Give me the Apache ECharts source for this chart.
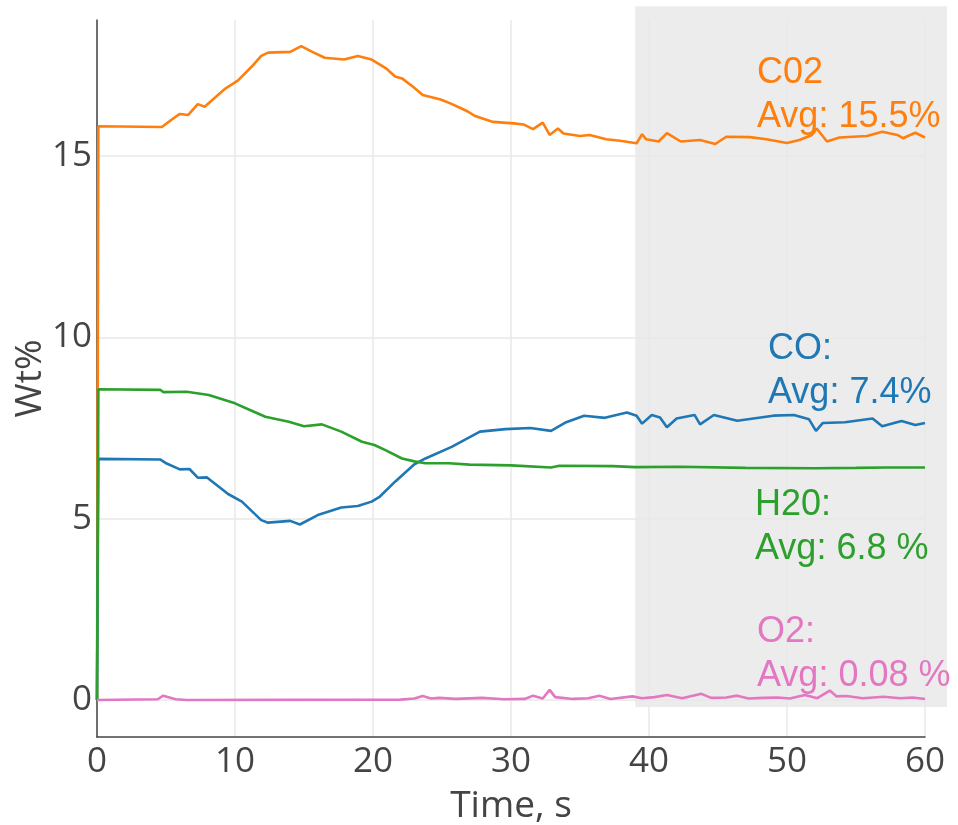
<!DOCTYPE html>
<html>
<head>
<meta charset="utf-8">
<script src="https://cdn.jsdelivr.net/npm/echarts@6.0.0/dist/echarts.min.js"></script>
<style>
  html, body { margin: 0; padding: 0; background: #fff; }
  #chart { width: 958px; height: 825px; }
</style>
</head>
<body>
<div id="chart"></div>
<script>
// 数据 (时间 s, Wt%)
var co2 = [[0,0],[0.1,15.82],[4.7,15.8],[5.4,16.0],[6.0,16.16],[6.6,16.13],[7.3,16.43],[7.8,16.36],[9.3,16.86],[10.2,17.08],[11.2,17.46],[11.9,17.76],[12.4,17.85],[14.0,17.87],[14.8,18.03],[15.6,17.87],[16.5,17.71],[17.9,17.66],[18.9,17.76],[19.9,17.66],[20.5,17.52],[21.0,17.4],[21.6,17.19],[22.1,17.14],[22.9,16.91],[23.6,16.68],[24.9,16.56],[25.6,16.45],[26.3,16.33],[26.9,16.22],[27.4,16.1],[28.7,15.94],[30.2,15.9],[30.9,15.87],[31.6,15.74],[32.3,15.92],[32.8,15.58],[33.4,15.76],[33.8,15.62],[35.0,15.55],[35.7,15.58],[36.9,15.46],[37.9,15.42],[39.1,15.35],[39.5,15.6],[39.8,15.46],[40.7,15.4],[41.3,15.63],[42.3,15.4],[43.7,15.44],[44.8,15.33],[45.6,15.53],[47.3,15.52],[48.5,15.46],[50.0,15.36],[50.9,15.44],[51.8,15.58],[52.15,15.76],[52.9,15.4],[53.8,15.51],[55.8,15.55],[56.9,15.67],[58.0,15.58],[58.4,15.49],[59.3,15.64],[60,15.51]]
var co = [[0,0],[0.1,6.65],[4.6,6.63],[5.05,6.52],[6.0,6.36],[6.7,6.37],[7.3,6.13],[7.95,6.14],[9.5,5.68],[10.5,5.47],[11.9,4.96],[12.4,4.89],[14.0,4.94],[14.7,4.84],[16.0,5.1],[17.7,5.31],[18.9,5.35],[19.9,5.47],[20.5,5.61],[21.6,6.02],[23.0,6.5],[23.8,6.66],[25.7,6.98],[27.75,7.4],[29.6,7.47],[31.4,7.5],[32.9,7.42],[34.0,7.66],[35.3,7.84],[36.8,7.78],[38.4,7.93],[39.1,7.84],[39.5,7.62],[40.2,7.86],[40.8,7.79],[41.3,7.52],[42.0,7.76],[43.3,7.86],[43.7,7.6],[44.7,7.86],[46.4,7.7],[49.0,7.84],[50.5,7.86],[51.6,7.74],[52.1,7.42],[52.6,7.64],[54.2,7.66],[56.2,7.76],[56.9,7.55],[58.3,7.69],[59.3,7.58],[60,7.64]]
var h2o = [[0,0],[0.1,8.57],[4.6,8.55],[4.8,8.49],[6.5,8.5],[8.1,8.41],[10.0,8.18],[11.0,8.01],[12.2,7.81],[13.9,7.67],[15.0,7.55],[16.3,7.6],[17.7,7.4],[19.2,7.12],[20.1,7.03],[20.9,6.89],[22.1,6.66],[23.0,6.58],[23.8,6.53],[25.5,6.53],[27.0,6.49],[30.0,6.47],[32.9,6.41],[33.5,6.46],[37.4,6.45],[39.0,6.42],[42.2,6.43],[47.0,6.4],[52.0,6.39],[55.0,6.4],[57.2,6.41],[60,6.41]]
var o2 = [[0,0],[4.4,0.02],[4.8,0.12],[5.7,0.02],[6.5,0],[22.0,0.01],[23.0,0.04],[23.6,0.11],[24.2,0.04],[24.8,0.06],[26.0,0.03],[27.9,0.06],[29.5,0.02],[31.0,0.03],[31.6,0.12],[32.3,0.04],[32.8,0.28],[33.2,0.08],[34.5,0.03],[35.6,0.05],[36.4,0.12],[37.2,0.03],[38.8,0.1],[39.5,0.05],[40.4,0.08],[41.3,0.14],[42.4,0.05],[43.8,0.17],[44.5,0.06],[45.6,0.07],[46.4,0.12],[47.2,0.04],[48.3,0.06],[49.3,0.07],[50.2,0.04],[51.3,0.14],[52.2,0.05],[53.1,0.26],[53.6,0.1],[54.3,0.11],[55.5,0.05],[57.0,0.09],[58.2,0.05],[59.1,0.07],[60,0.03]]

var yTicks = [0, 5, 10, 15]
var shadeX = [39, 61.6] // 平均值区间
var shadeY = [-0.19, 19.13]
var notes = [
    {text: 'C02\nAvg: 15.5%', color: '#ff7f0e', x: 757, y: 51},
    {text: 'CO:\nAvg: 7.4%', color: '#1f77b4', x: 768, y: 327},
    {text: 'H20:\nAvg: 6.8 %', color: '#2ca02c', x: 755, y: 483},
    {text: 'O2:\nAvg: 0.08 %', color: '#e377c2', x: 757, y: 610}
]

var font = '"Open Sans", "Liberation Sans", Arial, sans-serif'

function line(name, data, color) {
    return {
        name: name,
        type: 'line',
        data: data,
        symbol: 'none',
        lineStyle: { color: color, width: 2.6 },
        itemStyle: { color: color }
    }
}

var chart = echarts.init(document.getElementById('chart'), null, { renderer: 'canvas' })
var option = {
    animation: false,
    backgroundColor: '#fff',
    grid: { left: 97, top: 20, right: 33, bottom: 88, containLabel: false, outerBoundsMode: 'none' },
    xAxis: [{
        type: 'value',
        min: 0,
        max: 60,
        interval: 10,
        name: 'Time, s',
        nameLocation: 'middle',
        nameGap: 51,
        nameTextStyle: { fontSize: 37, color: '#444', fontFamily: font },
        axisLine: { show: false },
        axisTick: { show: false },
        axisLabel: { fontSize: 35, color: '#444', fontFamily: font, margin: 8 },
        splitLine: { show: true, lineStyle: { color: '#e8e8e8', width: 1.5 } }
    }, {
        // 零线
        type: 'value',
        min: 0,
        max: 60,
        position: 'bottom',
        axisLine: { show: true, onZero: true, lineStyle: { color: '#444', width: 1.5 } },
        axisTick: { show: false },
        axisLabel: { show: false },
        splitLine: { show: false }
    }],
    yAxis: {
        type: 'value',
        min: -1.02,
        max: 18.75,
        name: 'Wt%',
        nameLocation: 'middle',
        nameGap: 48,
        nameMoveOverlap: false,
        nameTextStyle: { fontSize: 37, color: '#444', fontFamily: font },
        axisLine: { show: true, onZero: false, lineStyle: { color: '#444', width: 1.5 } },
        axisTick: { show: false, customValues: yTicks },
        axisLabel: { fontSize: 35, color: '#444', fontFamily: font, margin: 5, customValues: yTicks },
        splitLine: { show: true, lineStyle: { color: '#e8e8e8', width: 1.5 } }
    },
    series: [
        line('CO2', co2, '#ff7f0e'),
        line('CO', co, '#1f77b4'),
        line('H2O', h2o, '#2ca02c'),
        line('O2', o2, '#e377c2')
    ]
}
chart.setOption(option)

var p0 = chart.convertToPixel({ gridIndex: 0 }, [shadeX[0], shadeY[1]])
var p1 = chart.convertToPixel({ gridIndex: 0 }, [shadeX[1], shadeY[0]])
var graphics = [{
    type: 'rect',
    z: -10,
    silent: true,
    shape: { x: p0[0], y: p0[1], width: p1[0] - p0[0], height: p1[1] - p0[1] },
    style: { fill: 'rgba(0,0,0,0.075)' }
}]
notes.forEach(function(n) {
    graphics.push({
        type: 'text',
        z: 100,
        x: n.x,
        y: n.y,
        style: {
            text: n.text,
            fill: n.color,
            font: '36px "Liberation Sans", Arial, sans-serif',
            lineHeight: 44,
            textAlign: 'left',
            textVerticalAlign: 'top'
        }
    })
})
chart.setOption({ graphic: graphics })
</script>
</body>
</html>
